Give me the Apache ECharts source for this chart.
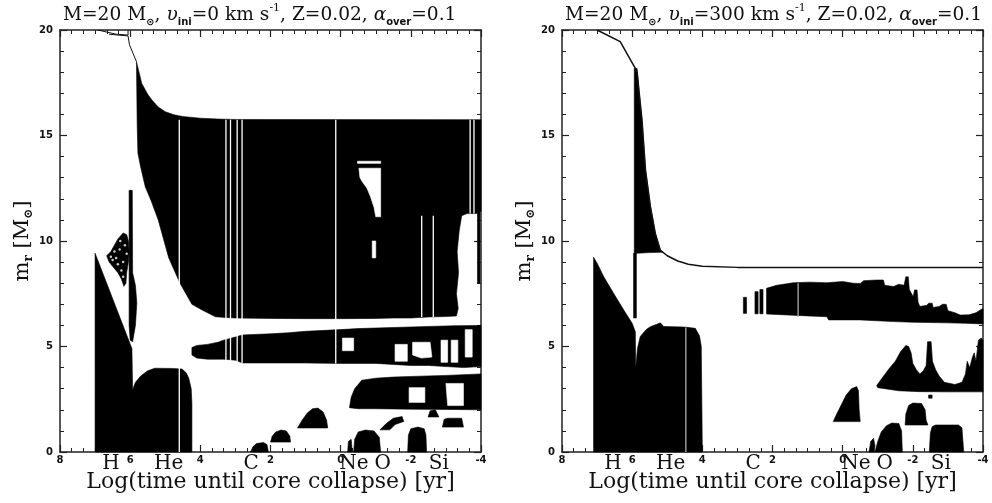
<!DOCTYPE html>
<html><head><meta charset="utf-8">
<script src="https://cdn.jsdelivr.net/npm/echarts@6/dist/echarts.min.js"></script>
<style>html,body{margin:0;padding:0;background:#fff}#c{width:992px;height:503px}</style>
</head><body><div id="c"></div>
<script>
// ---------- tick / label data ----------
const xMin = -4, xMax = 8, xStep = 2;
const yMin = 0, yMax = 20, yStep = 5;
const phaseLabels = [['H', 6.55], ['He', 4.9], ['C', 2.55], ['Ne', -0.38], ['O', -1.2], ['Si', -2.8]];

// ---------- LEFT PANEL (v_ini = 0) ----------
const totalMassL = [[6.6,19.8],[6.06,19.72],[6.02,19.3],[5.92,18.9],[5.82,18.5]];
const totalMassL2 = [[6.92,20],[6.4,19.8],[6.06,19.76],[6.06,20]];
const coreL = [[7.0,0],[7.0,9.42],[6.7,8.13],[6.4,6.84],[6.1,5.55],[5.95,4.9],[5.93,2.95],[5.85,3.3],[5.7,3.6],[5.5,3.85],[5.3,3.97],[4.8,3.96],[4.52,3.93],[4.4,3.75],[4.33,3.5],[4.26,3.0],[4.24,2.3],[4.24,0]];
const stripL = [[6.03,12.4],[5.94,12.4],[5.93,8.5],[5.85,7.9],[5.81,7.06],[5.85,6.0],[5.93,5.23],[6.0,5.3],[6.03,6.0]];
const clusterL = [[6.2,10.38],[6.1,10.3],[6.05,10.0],[6.03,9.5],[6.05,9.0],[6.1,8.5],[6.12,8.0],[6.18,7.85],[6.25,8.2],[6.35,8.5],[6.45,8.7],[6.6,9.0],[6.67,9.3],[6.55,9.5],[6.45,9.8],[6.35,10.1]];
const clusterHolesL = [[6.3,9.6],[6.4,9.2],[6.2,9.0],[6.25,8.6],[6.5,9.1],[6.15,9.8],[6.35,8.9],[6.1,9.4],[6.45,9.5],[6.2,8.3],[6.28,10.0],[6.55,9.25]];
const mainL = [[5.82,18.5],[5.67,17.47],[5.5,16.95],[5.38,16.68],[5.2,16.35],[5.0,16.13],[4.75,15.98],[4.5,15.9],[4.0,15.82],[3.5,15.78],[3.0,15.76],[-4,15.75],
  [-4,11.4],[-3.97,11.4],[-3.97,8.0],[-3.9,8.0],[-3.9,11.3],[-3.6,11.3],[-3.45,11.2],[-3.38,10.5],[-3.32,9.5],[-3.36,8.5],[-3.3,7.5],[-3.35,6.8],[-3.3,6.45],
  [-3.0,6.42],[-2.5,6.4],[-2.0,6.35],[-1.5,6.35],[-1.0,6.33],[0,6.32],[1.0,6.32],[2.0,6.33],[3.0,6.35],[3.3,6.38],[3.57,6.41],[3.95,6.73],[4.24,7.0],[4.58,8.0],[4.9,9.2],[5.2,11.0],[5.4,11.9],[5.57,12.57],[5.7,13.5],[5.78,14.17],[5.8,15.5]];
const band2L = [[4.24,4.95],[4.1,5.05],[3.8,5.1],[3.5,5.2],[3.34,5.3],[3.0,5.45],[2.8,5.55],[2.0,5.6],[1.5,5.65],[1.0,5.72],[0,5.8],[-0.5,5.85],[-1.5,5.9],[-2.5,5.95],[-3.2,5.98],[-4,6.0],
  [-4,4.05],[-3.5,4.0],[-3.0,4.05],[-2.5,4.1],[-2.0,4.1],[-1.5,4.15],[-1.0,4.2],[0,4.2],[1.0,4.22],[2.8,4.22],[3.0,4.35],[3.34,4.4],[3.8,4.4],[4.1,4.45],[4.24,4.6]];
const band3L = [[-0.25,2.1],[-0.3,2.6],[-0.4,3.0],[-0.6,3.4],[-1.0,3.5],[-1.5,3.55],[-2.0,3.58],[-3.0,3.63],[-4,3.7],[-4,2.0],[-3.0,2.02],[-2.0,2.03],[-1.0,2.05],[-0.5,2.05]];
const blobsL = [
  [[2.57,0],[2.5,0.25],[2.4,0.4],[2.2,0.45],[2.1,0.35],[2.06,0]],
  [[2.0,0.47],[1.95,0.75],[1.85,0.95],[1.7,1.04],[1.55,1.0],[1.45,0.75],[1.43,0.47]],
  [[1.23,1.14],[1.1,1.5],[0.95,1.85],[0.8,2.05],[0.65,2.08],[0.5,1.9],[0.4,1.5],[0.37,1.14]],
  [[-0.37,0],[-0.4,0.6],[-0.5,0.95],[-0.7,1.04],[-0.95,1.0],[-1.1,0.7],[-1.14,0]],
  [[-0.2,0],[-0.22,0.5],[-0.3,0.6],[-0.33,0]],
  [[-1.12,1.05],[-1.3,1.35],[-1.5,1.6],[-1.75,1.68],[-1.8,1.45],[-1.55,1.3],[-1.4,1.05]],
  [[-1.91,0],[-1.93,0.8],[-2.0,1.1],[-2.2,1.18],[-2.38,1.1],[-2.43,0.8],[-2.45,0]],
  [[-2.49,1.66],[-2.55,1.95],[-2.7,2.0],[-2.8,1.66]],
  [[-2.9,1.18],[-2.95,1.55],[-3.05,1.6],[-3.45,1.6],[-3.5,1.18]]
];
const holesL = [
  [[-0.52,13.45],[-1.14,13.45],[-1.14,11.15],[-1.0,11.15],[-0.95,11.6],[-0.85,12.1],[-0.75,12.5],[-0.62,12.8],[-0.55,13.0]],
  [[-0.48,13.78],[-1.14,13.78],[-1.14,13.68],[-0.48,13.68]],
  [[-0.9,10.0],[-1.0,10.0],[-1.0,9.2],[-0.9,9.2]],
  [[-0.05,5.4],[-0.37,5.4],[-0.37,4.8],[-0.05,4.8]],
  [[-1.55,5.1],[-1.9,5.1],[-1.9,4.3],[-1.55,4.3]],
  [[-2.05,5.2],[-2.55,5.2],[-2.6,4.5],[-2.3,4.45],[-2.05,4.6]],
  [[-2.86,5.3],[-3.05,5.3],[-3.05,4.25],[-2.86,4.25]],
  [[-3.15,5.3],[-3.34,5.3],[-3.34,4.25],[-3.15,4.25]],
  [[-3.55,5.8],[-3.75,5.8],[-3.75,4.5],[-3.55,4.5]],
  [[-1.95,3.05],[-2.4,3.05],[-2.4,2.35],[-1.95,2.35]],
  [[-3.0,3.25],[-3.5,3.25],[-3.5,2.2],[-3.05,2.2]]
];
const whiteLinesL = [[4.6,0,15.75],[3.27,4.2,15.75],[3.14,4.2,15.75],[2.95,4.2,15.75],[2.81,4.2,15.75],[0.14,4.2,15.75],[-3.69,11.3,15.75],[-3.8,11.3,15.75],[-2.31,6.4,11.2],[-2.64,6.4,11.2]];

// ---------- RIGHT PANEL (v_ini = 300) ----------
const totalMassR = [[7.0,20],[6.34,19.45],[6.1,18.74],[5.91,18.18],[5.86,18.0],[5.72,15.73],[5.62,13.36],[5.48,11.63],[5.34,10.36],[5.2,9.57],[5.0,9.3],[4.7,9.05],[4.4,8.9],[4.0,8.8],[3.0,8.75],[-4,8.74]];
const spikeR = [[5.94,18.18],[5.86,18.18],[5.8,17.0],[5.72,15.73],[5.62,13.36],[5.48,11.63],[5.34,10.36],[5.2,9.57],[5.12,9.47],[5.5,9.45],[5.86,9.42],[5.94,9.42]];
const stripR = [[5.96,9.42],[5.88,9.42],[5.88,6.35],[5.96,6.35]];
const coreR = [[7.1,0],[7.1,9.23],[7.0,8.95],[6.81,8.31],[6.53,7.52],[6.24,6.73],[6.0,6.1],[5.91,5.7],[5.9,3.95],[5.85,4.9],[5.77,5.47],[5.6,5.8],[5.48,5.94],[5.3,6.05],[5.2,6.12],[5.1,5.95],[4.5,5.92],[4.2,5.86],[4.08,5.5],[4.03,5.0],[4.0,0]];
const barsR = [
  [[2.83,6.57],[2.74,6.57],[2.74,7.33],[2.83,7.33]],
  [[2.5,6.55],[2.41,6.55],[2.41,7.6],[2.5,7.6]],
  [[2.36,6.55],[2.27,6.55],[2.27,7.7],[2.36,7.7]]
];
const bandR = [[2.17,6.55],[2.17,7.76],[1.88,7.9],[1.41,8.02],[0.93,8.05],[0.455,8.02],[0,8.08],[-0.3,8.0],[-0.5,7.99],[-0.6,8.12],[-0.97,8.15],[-1.16,8.15],[-1.2,7.9],[-1.45,7.84],[-1.6,7.95],[-1.75,7.9],[-1.8,8.3],[-1.87,8.3],[-1.9,7.7],[-2.01,7.36],[-2.05,7.68],[-2.12,7.68],[-2.15,7.1],[-2.2,6.9],[-2.4,6.95],[-2.45,7.05],[-2.55,7.05],[-2.58,6.85],[-2.75,6.9],[-2.85,7.0],[-2.95,7.0],[-3.0,6.7],[-3.2,6.6],[-3.35,6.49],[-3.6,6.5],[-3.8,6.6],[-3.92,6.73],[-4,6.8],
  [-4,6.07],[-3.5,6.1],[-3.0,6.12],[-2.0,6.15],[-1.45,6.18],[-0.5,6.26],[0.4,6.26],[0.45,6.41],[1.0,6.45],[2.17,6.54]];
const band3R = [[-0.97,3.15],[-1.1,3.45],[-1.3,3.9],[-1.5,4.3],[-1.65,4.75],[-1.8,5.05],[-1.88,5.0],[-1.95,4.7],[-2.0,4.2],[-2.1,3.9],[-2.2,3.7],[-2.3,3.85],[-2.38,4.1],[-2.42,5.23],[-2.52,5.23],[-2.56,4.3],[-2.65,3.9],[-2.75,3.6],[-2.9,3.3],[-3.2,3.2],[-3.4,3.3],[-3.5,3.7],[-3.55,4.3],[-3.62,4.0],[-3.7,4.5],[-3.75,4.7],[-3.8,4.3],[-3.87,5.3],[-3.95,5.4],[-4,5.3],
  [-4,2.85],[-3.0,2.85],[-2.2,2.86],[-1.6,2.9],[-1.2,3.0],[-1.0,3.05]];
const blobsR = [
  [[-2.45,2.55],[-2.55,2.55],[-2.55,2.7],[-2.45,2.7]],
  [[0.27,1.44],[0.2,1.7],[0.05,2.2],[-0.1,2.7],[-0.25,3.0],[-0.4,3.1],[-0.45,2.9],[-0.47,2.0],[-0.5,1.44]],
  [[-1.78,1.28],[-1.8,1.8],[-1.88,2.2],[-2.0,2.32],[-2.25,2.3],[-2.35,2.0],[-2.38,1.5],[-2.43,1.28]],
  [[-0.92,0],[-1.0,0.5],[-1.1,0.95],[-1.25,1.25],[-1.4,1.37],[-1.6,1.35],[-1.68,1.0],[-1.7,0]],
  [[-0.75,0],[-0.8,0.5],[-0.88,0.65],[-0.92,0.3],[-0.9,0]],
  [[-2.47,0],[-2.5,0.9],[-2.55,1.2],[-2.65,1.28],[-3.3,1.28],[-3.4,1.15],[-3.45,0]]
];
const whiteLinesR = [[4.47,0,5.9],[1.27,6.4,8.0]];

// ---------- helpers ----------
const SERIF = "'DejaVu Serif', serif";
function polySeries(ax, polys, color, z) {
  return {
    type: 'custom', xAxisIndex: ax, yAxisIndex: ax, z: z, silent: true,
    data: polys.map(p => p[0]),
    renderItem: function (params, api) {
      const pts = polys[params.dataIndex].map(p => api.coord(p));
      return { type: 'polygon', shape: { points: pts }, style: { fill: color, stroke: color, lineWidth: 0.6 } };
    }
  };
}
function vLineSeries(ax, lines, color, w, z) {
  return {
    type: 'custom', xAxisIndex: ax, yAxisIndex: ax, z: z, silent: true,
    data: lines,
    renderItem: function (params, api) {
      const a = api.coord([api.value(0), api.value(1)]);
      const b = api.coord([api.value(0), api.value(2)]);
      return { type: 'line', shape: { x1: a[0], y1: a[1], x2: b[0], y2: b[1] }, style: { stroke: color, lineWidth: w } };
    }
  };
}
function lineSeries(ax, data, w, z) {
  return { type: 'line', xAxisIndex: ax, yAxisIndex: ax, data: data, symbol: 'none', z: z, silent: true,
    lineStyle: { color: '#111', width: w }, animation: false };
}
function labelSeries(ax) {
  return {
    type: 'custom', xAxisIndex: ax, yAxisIndex: ax, z: 10, silent: true, clip: false,
    data: phaseLabels.map(p => [p[1], 0]),
    renderItem: function (params, api) {
      const pt = api.coord([api.value(0), 0]);
      return { type: 'text', x: pt[0], y: pt[1] + 2,
        style: { text: phaseLabels[params.dataIndex][0], fill: '#111', font: "20px 'DejaVu Serif'", align: 'center', verticalAlign: 'top' } };
    }
  };
}
function xAxes(gi) {
  const base = { type: 'value', gridIndex: gi, min: xMin, max: xMax, interval: xStep, inverse: true,
    axisLine: { show: true, onZero: false, lineStyle: { color: '#222', width: 1.5 } },
    axisTick: { show: true, inside: true, length: 7, lineStyle: { color: '#222', width: 1.2 } },
    minorTick: { show: true, splitNumber: 6, length: 4, lineStyle: { color: '#222', width: 1 } },
    splitLine: { show: false } };
  return [
    Object.assign({}, base, { position: 'bottom',
      axisLabel: { show: true, margin: 3, fontSize: 10, fontWeight: 'bold', fontFamily: "'DejaVu Sans'", color: '#111', formatter: v => String(v) },
      name: 'Log(time until core collapse) [yr]', nameLocation: 'middle', nameGap: 19,
      nameTextStyle: { fontFamily: SERIF, fontSize: 22, color: '#111' } }),
    Object.assign({}, base, { position: 'top', axisLabel: { show: false } })
  ];
}
function yAxes(gi) {
  const base = { type: 'value', gridIndex: gi, min: yMin, max: yMax, interval: yStep,
    axisLine: { show: true, onZero: false, lineStyle: { color: '#222', width: 1.5 } },
    axisTick: { show: true, inside: true, length: 7, lineStyle: { color: '#222', width: 1.2 } },
    minorTick: { show: true, splitNumber: 5, length: 4, lineStyle: { color: '#222', width: 1 } },
    splitLine: { show: false } };
  return [
    Object.assign({}, base, { position: 'left',
      axisLabel: { show: true, margin: 7, fontSize: 10, fontWeight: 'bold', fontFamily: "'DejaVu Sans'", color: '#111' },
      name: '{a|m}{s|r}{a| [M}{s|⊙}{a|]}', nameLocation: 'middle', nameGap: 20, nameRotate: 90,
      nameTextStyle: { color: '#111', rich: {
        a: { fontFamily: SERIF, fontSize: 21, color: '#111', lineHeight: 26, verticalAlign: 'middle' },
        s: { fontFamily: SERIF, fontSize: 12, fontWeight: 'bold', color: '#111', lineHeight: 26, verticalAlign: 'bottom', padding: [8, 0, 0, 0] } } } }),
    Object.assign({}, base, { position: 'right', axisLabel: { show: false } })
  ];
}
const titleRich = {
  n: { fontFamily: SERIF, fontSize: 18.6, fontWeight: 'normal', color: '#111', lineHeight: 24 },
  i: { fontFamily: SERIF, fontSize: 18.6, fontWeight: 'normal', fontStyle: 'italic', color: '#111', lineHeight: 24 },
  sub: { fontFamily: "'DejaVu Sans'", fontSize: 10, fontWeight: 'bold', color: '#111', lineHeight: 24, verticalAlign: 'bottom', padding: [7, 0, 0, 0] },
  sup: { fontFamily: SERIF, fontSize: 11, fontWeight: 'normal', color: '#111', lineHeight: 24, verticalAlign: 'top', padding: [0, 0, 7, 0] }
};
function titleText(v) {
  return '{n|M=20 M}{sub|⊙}{n|, }{i|υ}{sub|ini}{n|=' + v + ' km s}{sup|-1}{n|, Z=0.02, }{i|α}{sub|over}{n|=0.1}';
}

const chart = echarts.init(document.getElementById('c'), null, { renderer: 'canvas' });
const xs = xAxes(0).concat(xAxes(1));
const ys = yAxes(0).concat(yAxes(1));
chart.setOption({
  animation: false,
  backgroundColor: '#fff',
  title: [
    { text: titleText('0'), left: 58, top: -2, textStyle: { fontWeight: 'normal', rich: titleRich } },
    { text: titleText('300'), left: 560, top: -2, textStyle: { fontWeight: 'normal', rich: titleRich } }
  ],
  grid: [
    { left: 60, top: 30, width: 421, height: 422 },
    { left: 562, top: 30, width: 421, height: 422 }
  ],
  xAxis: xs,
  yAxis: ys,
  series: [
    // left panel
    polySeries(0, [coreL, stripL, mainL, band2L, band3L, clusterL].concat(blobsL), '#000', 2),
    polySeries(0, holesL, '#fff', 3),
    vLineSeries(0, whiteLinesL, '#fff', 1.3, 4),
    { type: 'scatter', xAxisIndex: 0, yAxisIndex: 0, data: clusterHolesL, symbolSize: 2.5, itemStyle: { color: '#fff' }, z: 4, silent: true },
    lineSeries(0, totalMassL, 1, 5),
    lineSeries(0, totalMassL2, 1, 5),
    labelSeries(0),
    // right panel
    polySeries(2, [coreR, spikeR, stripR, bandR, band3R].concat(barsR, blobsR), '#000', 2),
    vLineSeries(2, whiteLinesR, '#bbb', 1.2, 4),
    lineSeries(2, totalMassR, 1.5, 5),
    labelSeries(2)
  ]
});
</script>
</body></html>
